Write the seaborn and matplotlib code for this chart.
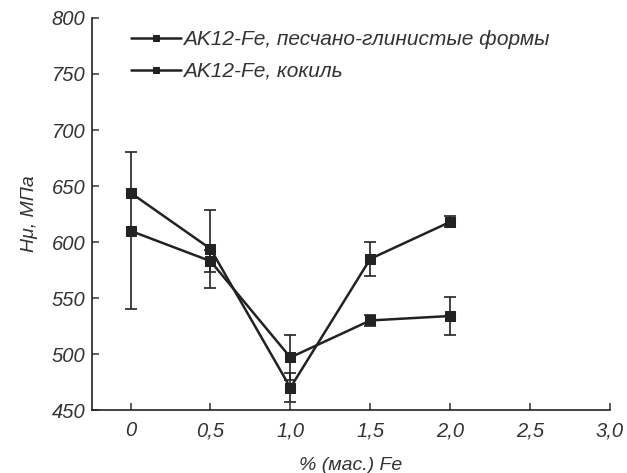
import matplotlib
matplotlib.use("Agg")
import matplotlib.pyplot as plt
import numpy as np
import pandas as pd
import seaborn as sns

# содержание железа, % (мас.)
fe = [0.0, 0.5, 1.0, 1.5, 2.0]

# микротвёрдость, МПа
hv_sand = [610, 583, 497, 530, 534]
err_sand = [70, 10, 20, 5, 17]
hv_chill = [644, 594, 470, 585, 618]
err_chill = [0, 35, 13, 15, 5]

labels = ["AK12-Fe, песчано-глинистые формы", "AK12-Fe, кокиль"]
x_ticks = [0, 0.5, 1.0, 1.5, 2.0, 2.5, 3.0]
x_tick_labels = ["0", "0,5", "1,0", "1,5", "2,0", "2,5", "3,0"]
y_ticks = [450, 500, 550, 600, 650, 700, 750, 800]

sns.set_style("ticks")
plt.rcParams["font.family"] = ["Liberation Sans", "DejaVu Sans"]
plt.rcParams["font.style"] = "italic"

df = pd.DataFrame({
    "fe": fe * 2,
    "hv": hv_sand + hv_chill,
    "err": err_sand + err_chill,
    "serie": [labels[0]] * len(fe) + [labels[1]] * len(fe),
})

fig = plt.figure(figsize=(6.27, 4.73), dpi=100)
ax = fig.add_axes([0.147, 0.133, 0.826, 0.829])

couleur = "#222222"
sns.lineplot(
    data=df, x="fe", y="hv", hue="serie", style="serie",
    markers=["s", "s"], dashes=False,
    palette=[couleur, couleur], linewidth=1.8, markersize=7,
    markeredgecolor=couleur, ax=ax,
)
for nom, grp in df.groupby("serie", sort=False):
    masque = grp["err"] > 0
    ax.errorbar(grp["fe"][masque], grp["hv"][masque], yerr=grp["err"][masque],
                fmt="none", ecolor=couleur, elinewidth=1.2, capsize=4,
                capthick=1.2)

ax.set_xlim(-0.24, 3.0)
ax.set_ylim(450, 800)
ax.set_xticks(x_ticks)
ax.set_xticklabels(x_tick_labels)
ax.set_yticks(y_ticks)
ax.tick_params(direction="in", length=5, width=1.1, labelsize=14.5,
               colors="#333333")
ax.tick_params(axis="x", pad=8)
ax.tick_params(axis="y", pad=5)
for s in ["left", "bottom"]:
    ax.spines[s].set_linewidth(1.2)
    ax.spines[s].set_color("#222222")
sns.despine(ax=ax)

ax.set_xlabel("% (мас.) Fe", fontsize=14, labelpad=12, color="#333333")
ax.set_ylabel("Hμ, МПа", fontsize=14, labelpad=10, color="#333333")

leg = ax.legend(loc="upper left", bbox_to_anchor=(0.05, 1.0), frameon=False,
                fontsize=15, handlelength=2.4, handletextpad=0.1,
                labelspacing=0.6, borderaxespad=0.2)
for h in leg.legend_handles:
    h.set_markersize(4)
for t in leg.get_texts():
    t.set_color("#333333")

fig.savefig("out.png", dpi=100)
